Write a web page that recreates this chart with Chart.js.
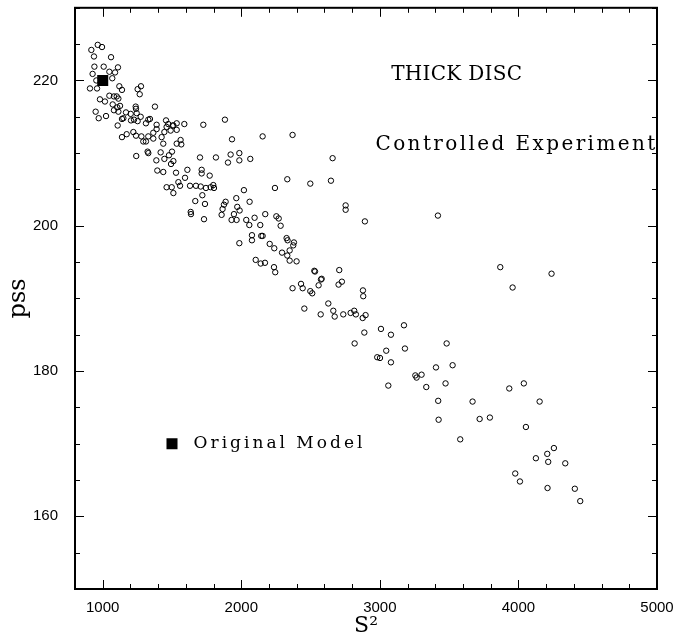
<!DOCTYPE html>
<html><head><meta charset="utf-8">
<script src="https://cdn.jsdelivr.net/npm/chart.js@4.4.1/dist/chart.umd.min.js"></script>
<style>html,body{margin:0;padding:0;background:#fff}#wrap{width:675px;height:639px}</style>
</head><body><div id="wrap"><canvas id="c" width="675" height="639"></canvas></div>
<script>
// ---- data ----
const experimentS2 = [
918,964,995,937,1060,940,1007,1110,927,1048,
1089,954,908,959,1069,1120,1139,1252,1276,1267,
980,1016,1048,1081,1101,1113,949,971,1024,1072,
1081,1105,1125,1113,1139,1149,1168,1202,1204,1226,
1238,1240,1245,1274,1252,1312,1329,1341,1377,1389,
1457,1473,1510,1534,1589,1726,1882,1108,1139,1173,
1221,1240,1279,1293,1312,1329,1365,1365,1389,1425,
1445,1437,1461,1490,1534,1534,1562,1567,1505,1933,
2154,2370,
1242,1324,1329,1387,1394,1418,1437,1445,1461,1478,1493,1498,1500,1510,1510,1529,1546,1558,
1702,1817,1923,1986,1904,1986,2065,2659,1611,1714,
1714,1772,1594,1630,1673,1707,1745,1779,1798,1803,
1719,1668,1738,1635,1637,1731,2019,1964,2060,1887,
1875,1865,1858,1947,1971,1988,1930,1966,2036,2058,
2096,2137,2173,2243,2332,2498,2647,2753,2753,2892,
2253,2270,2284,2077,2077,2144,2154,1986,2205,2238,
2294,2327,2334,2380,2375,2349,2332,2349,2399,2104,
2140,2171,2236,2245,2527,2532,2575,2580,2558,2707,
2726,2702,2370,2431,2443,2498,2512,2455,2628,2664,
2674,2573,2736,2789,2815,2827,2878,2880,2876,2897,
2888,3008,3080,3174,2818,
2981,3001,3046,3181,3080,3061,3256,3265,3301,3335,3405,3474,3482,3421,3424,
3869,4239,3958,3525,4039,3934,3669,4153,3720,3794,4054,3580,4256,4208,4126,4215,4338,3977,4011,4210,4407,4446,
3419
];
const experimentPss = [
224.2,224.9,224.6,223.3,223.2,221.9,221.9,221.8,220.9,221.2,
221.1,220.0,218.9,218.9,220.3,219.2,218.7,218.8,219.2,218.1,
217.4,217.1,217.9,217.8,217.8,217.5,215.7,214.8,215.1,216.7,
215.9,216.3,216.5,215.7,214.7,214.8,215.6,215.4,214.5,214.6,
216.4,216.1,215.5,215.0,214.4,214.1,214.6,214.7,216.4,213.9,
214.5,214.0,213.8,214.1,214.0,213.9,214.6,213.8,212.2,212.6,
212.9,212.4,212.3,211.6,211.6,212.3,212.8,212.0,213.3,212.2,
212.9,211.3,213.6,213.1,213.2,211.3,211.8,211.2,213.8,211.9,
212.3,212.5,
209.6,210.2,210.0,209.0,207.6,210.1,207.4,209.2,205.3,209.7,208.5,205.3,210.2,208.9,204.5,207.3,206.0,205.5,
209.4,209.4,209.8,210.0,208.7,209.0,209.2,209.3,207.7,207.7,
207.2,206.9,206.6,205.5,205.5,205.4,205.2,205.3,205.6,205.2,
204.2,203.4,203.0,201.9,201.6,200.9,204.9,203.8,203.3,203.3,
202.9,202.3,201.5,201.6,202.6,202.1,200.8,200.8,200.8,200.1,
201.1,200.1,201.6,205.2,206.4,205.8,206.2,202.8,202.2,200.6,
201.3,201.0,200.0,198.7,198.0,198.6,198.6,197.6,197.5,196.9,
196.3,198.3,198.0,197.7,197.3,196.6,195.9,195.2,195.1,195.3,
194.8,194.9,194.3,193.6,193.8,193.7,192.6,192.7,191.8,193.9,
192.3,191.9,191.4,192.0,191.4,191.0,190.7,188.6,189.3,188.3,
187.5,187.8,187.8,188.0,188.3,187.8,191.1,190.3,187.3,187.7,
185.3,185.8,185.0,186.3,183.8,
181.9,181.8,182.8,183.1,181.2,178.0,179.4,179.1,179.5,177.8,180.5,178.3,183.8,175.9,173.3,
194.3,193.4,191.5,180.8,178.3,177.6,175.8,175.8,173.4,173.6,172.3,170.6,169.4,168.6,168.0,167.5,167.3,165.9,164.8,163.9,163.8,162.1,
201.4
];
const modelS2 = [1000];
const modelPss = [220];
const keyS2 = [1500];
const keyPss = [170];
const xTickValues = [1000, 2000, 3000, 4000, 5000];
const yTickValues = [160, 180, 200, 220];
const xBounds = [800, 5000];
const yBounds = [150, 230];
const xMinorStep = 200;
const yMinorStep = 5;
const xTitle = 'S\u00B2';
const yTitle = 'pss';
const noteTexts = ['THICK DISC', 'Controlled Experiment', 'Original Model'];
const noteS2 = [3554, 3978, 2265];
const notePss = [220.06, 210.43, 169.46];

// ---- styles ----
const noteStyles = [
  {font: '20px "DejaVu Serif"', spacing: 0.3},
  {font: '20px "DejaVu Serif"', spacing: 2.4},
  {font: '17px "DejaVu Serif"', spacing: 3.0}
];

const toPoints = (xs, ys) => xs.map((v, i) => ({x: v, y: ys[i]}));

const frameTicks = {
  id: 'frameTicks',
  afterDraw(chart) {
    const ctx = chart.ctx, a = chart.chartArea;
    const xs = chart.scales.x, ys = chart.scales.y;
    ctx.save();
    ctx.strokeStyle = '#000';
    ctx.lineWidth = 1;
    ctx.beginPath();
    for (let v = xBounds[0]; v <= xBounds[1]; v += xMinorStep) {
      const p = Math.round(xs.getPixelForValue(v)) + 0.5;
      const len = xTickValues.includes(v) ? 9 : 5;
      ctx.moveTo(p, a.bottom); ctx.lineTo(p, a.bottom - len);
      ctx.moveTo(p, a.top); ctx.lineTo(p, a.top + len);
    }
    for (let v = yBounds[0]; v <= yBounds[1]; v += yMinorStep) {
      const p = Math.round(ys.getPixelForValue(v)) + 0.5;
      const len = yTickValues.includes(v) ? 9 : 5;
      ctx.moveTo(a.left, p); ctx.lineTo(a.left + len, p);
      ctx.moveTo(a.right, p); ctx.lineTo(a.right - len, p);
    }
    ctx.stroke();
    ctx.lineWidth = 2;
    ctx.strokeRect(a.left, a.top, a.right - a.left, a.bottom - a.top);
    ctx.fillStyle = '#000';
    ctx.textBaseline = 'alphabetic';
    ctx.textAlign = 'center';
    noteTexts.forEach((t, i) => {
      const st = noteStyles[i];
      ctx.font = st.font;
      ctx.letterSpacing = st.spacing + 'px';
      ctx.fillText(t, xs.getPixelForValue(noteS2[i]) + st.spacing / 2, ys.getPixelForValue(notePss[i]));
    });
    ctx.restore();
  }
};

new Chart(document.getElementById('c'), {
  type: 'scatter',
  data: {
    datasets: [
      {
        label: 'Controlled Experiment',
        data: toPoints(experimentS2, experimentPss),
        pointStyle: 'circle',
        pointRadius: 2.7,
        pointHoverRadius: 2.7,
        pointBorderWidth: 1,
        pointBorderColor: '#000',
        pointBackgroundColor: 'rgba(0,0,0,0)'
      },
      {
        label: 'Original Model',
        data: toPoints(modelS2, modelPss),
        pointStyle: 'rect',
        pointRadius: 7.8,
        pointHoverRadius: 7.8,
        pointBorderWidth: 0,
        pointBackgroundColor: '#000'
      },
      {
        label: 'key',
        data: toPoints(keyS2, keyPss),
        pointStyle: 'rect',
        pointRadius: 7.8,
        pointHoverRadius: 7.8,
        pointBorderWidth: 0,
        pointBackgroundColor: '#000'
      }
    ]
  },
  options: {
    responsive: false,
    animation: false,
    devicePixelRatio: 1,
    events: [],
    layout: {padding: {top: 7, right: 18, left: 0, bottom: 0}},
    plugins: {legend: {display: false}, tooltip: {enabled: false}},
    scales: {
      x: {
        type: 'linear',
        min: xBounds[0], max: xBounds[1],
        grid: {display: false},
        border: {display: false},
        afterBuildTicks: s => { s.ticks = xTickValues.map(v => ({value: v})); },
        afterFit: s => { s.height = 50; s.paddingLeft = 0; s.paddingRight = 0; s.paddingTop = 0; s.paddingBottom = 0; },
        ticks: {color: '#000', font: {family: '"Liberation Sans"', size: 15}, padding: 2, maxRotation: 0, autoSkip: false, callback: v => String(v)},
        title: {display: true, text: xTitle, color: '#000', font: {family: '"DejaVu Serif"', size: 22}, padding: 0}
      },
      y: {
        type: 'linear',
        min: yBounds[0], max: yBounds[1],
        grid: {display: false},
        border: {display: false},
        afterBuildTicks: s => { s.ticks = yTickValues.map(v => ({value: v})); },
        afterFit: s => { s.width = 75; s.paddingLeft = 0; s.paddingRight = 0; s.paddingTop = 0; s.paddingBottom = 0; },
        ticks: {color: '#000', font: {family: '"Liberation Sans"', size: 15}, padding: 9, callback: v => String(v)},
        title: {display: true, text: yTitle, color: '#000', font: {family: '"DejaVu Serif"', size: 24}, padding: {top: 4, bottom: 0}}
      }
    }
  },
  plugins: [frameTicks]
});
</script></body></html>
